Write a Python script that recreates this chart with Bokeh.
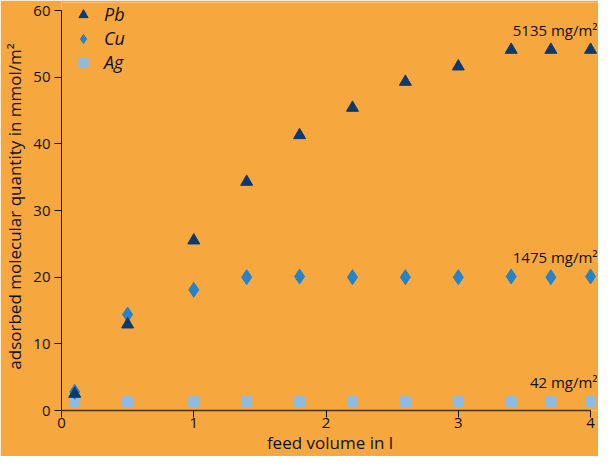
from bokeh.plotting import figure
from bokeh.models import ColumnDataSource, Legend, LegendItem, FixedTicker, Range1d
from bokeh.core.properties import value
from bokeh.embed import file_html
from bokeh.resources import INLINE

# ---- data ----
feed_volume = [0.1, 0.5, 1.0, 1.4, 1.8, 2.2, 2.6, 3.0, 3.4, 3.7, 4.0]
pb = [2.5, 12.9, 25.5, 34.3, 41.3, 45.4, 49.3, 51.6, 54.1, 54.1, 54.1]
cu = [2.8, 14.4, 18.1, 20.0, 20.1, 20.0, 20.0, 20.0, 20.1, 20.0, 20.1]
ag = [1.3, 1.3, 1.3, 1.3, 1.3, 1.3, 1.3, 1.3, 1.3, 1.3, 1.3]
series_names = ["Pb", "Cu", "Ag"]
capacity_labels = ["5135 mg/m²", "1475 mg/m²", "42 mg/m²"]
x_ticks = [0, 1, 2, 3, 4]
y_ticks = [0, 10, 20, 30, 40, 50, 60]

BG = "#F6A73E"
C_PB = "#0B3A6E"
C_CU = "#2383CB"
C_AG = "#8CBCE6"
TXT = "#111111"
FONT = "Open Sans"

p = figure(width=598, height=456, output_backend="svg", toolbar_location=None,
           x_range=Range1d(0, 4.06), y_range=Range1d(0, 61.2),
           min_border_left=0, min_border_right=0, min_border_top=2, min_border_bottom=0)
p.background_fill_color = BG
p.border_fill_color = BG
p.outline_line_color = None
p.grid.visible = False

src = ColumnDataSource(dict(x=feed_volume, pb=pb, cu=cu, ag=ag))
r_ag = p.scatter("x", "ag", source=src, marker="square", size=10, color=C_AG)
r_cu = p.scatter("x", "cu", source=src, marker="diamond", size=15, color=C_CU)
r_pb = p.scatter("x", "pb", source=src, marker="triangle", size=12, color=C_PB)

# capacity annotations anchored to last point of each series
ann = ColumnDataSource(dict(
    x=[feed_volume[-1]] * 3,
    y=[pb[-1], cu[-1], ag[-1]],
    t=capacity_labels))
p.text("x", "y", text="t", source=ann, text_align="right", text_baseline="middle",
       x_offset=7, y_offset=-20, text_font=value(FONT), text_font_size="15px",
       text_color=TXT)

# axes
for ax in (p.xaxis[0], p.yaxis[0]):
    ax.major_tick_in = 0
    ax.major_tick_out = 7
    ax.minor_tick_line_color = None
    ax.major_label_text_font = FONT
    ax.major_label_text_font_size = "15px"
    ax.major_label_text_color = TXT
    ax.axis_label_text_font = FONT
    ax.axis_label_text_font_size = "17px"
    ax.axis_label_text_font_style = "normal"
    ax.axis_label_text_color = TXT

p.xaxis.ticker = FixedTicker(ticks=x_ticks)
p.xaxis.bounds = (0, 4)
p.xaxis.axis_line_color = "#4a3312"
p.xaxis.axis_line_width = 1.5
p.xaxis.major_tick_line_color = "#111111"
p.xaxis.axis_label = "feed volume in l"
p.xaxis.major_label_standoff = 0
p.xaxis.axis_label_standoff = 0

p.yaxis.ticker = FixedTicker(ticks=y_ticks)
p.yaxis.bounds = (0, 60)
p.yaxis.axis_line_color = "#111111"
p.yaxis.major_tick_line_color = "#111111"
p.yaxis.axis_label = "adsorbed molecular quantity in mmol/m²"
p.yaxis.major_label_standoff = 4
p.yaxis.axis_label_standoff = 4

legend = Legend(items=[LegendItem(label=series_names[0], renderers=[r_pb]),
                       LegendItem(label=series_names[1], renderers=[r_cu]),
                       LegendItem(label=series_names[2], renderers=[r_ag])],
                location=(9, 336), background_fill_alpha=0, border_line_color=None,
                padding=0, margin=0, spacing=0, glyph_width=26, glyph_height=23,
                label_height=23, label_standoff=8,
                label_text_font=FONT, label_text_font_size="18px",
                label_text_font_style="italic", label_text_color=TXT)
p.add_layout(legend)

open("out.html", "w").write(file_html(p, INLINE))
